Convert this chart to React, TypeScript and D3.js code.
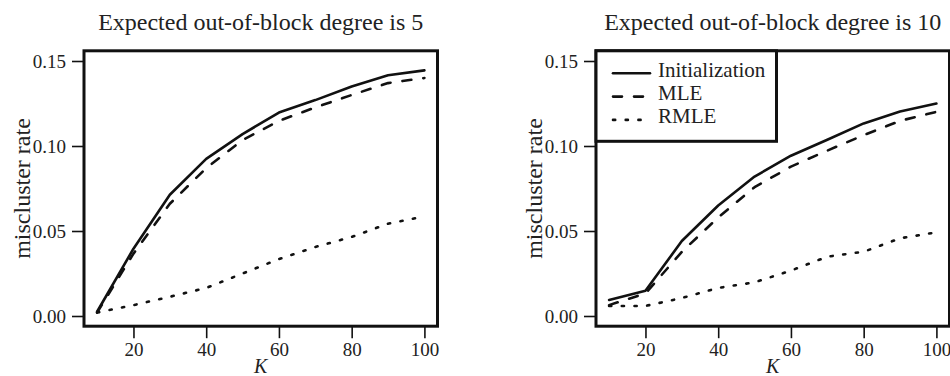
import * as d3 from "d3";
import { useEffect, useRef } from "react";

// K on the x axis
const kValues = [10, 20, 30, 40, 50, 60, 70, 80, 90, 100];

// expected out-of-block degree 5
const initDeg5 = [0.0025, 0.0396, 0.0713, 0.0924, 0.107, 0.1197, 0.127, 0.135, 0.1416, 0.1445];
const mleDeg5 = [0.002, 0.0367, 0.066, 0.087, 0.1035, 0.1148, 0.1227, 0.13, 0.137, 0.14];
const rmleDeg5 = [0.002, 0.0064, 0.0113, 0.0165, 0.025, 0.0335, 0.0406, 0.0465, 0.0543, 0.0586];

// expected out-of-block degree 10
const initDeg10 = [0.0094, 0.0148, 0.0441, 0.065, 0.082, 0.0943, 0.1037, 0.1133, 0.1203, 0.125];
const mleDeg10 = [0.0064, 0.0133, 0.0377, 0.058, 0.0758, 0.0879, 0.0973, 0.1064, 0.1148, 0.1201];
const rmleDeg10 = [0.0059, 0.0059, 0.0106, 0.0165, 0.0198, 0.0267, 0.0349, 0.0378, 0.0457, 0.0492];

const xTickValues = [20, 40, 60, 80, 100];
const yTickValues = [0, 0.05, 0.1, 0.15];
const seriesNames = ["Initialization", "MLE", "RMLE"];
const panelTitles = [
  "Expected out-of-block degree is 5",
  "Expected out-of-block degree is 10",
];

const FONT = '"Liberation Serif", "DejaVu Serif", serif';
const INK = "#111";

export default function App() {
  const ref = useRef<SVGSVGElement | null>(null);

  useEffect(() => {
    if (!ref.current) return;
    const svg = d3.select(ref.current);
    svg.selectAll("*").remove();

    const top = 50.8;
    const bottom = 326.2;
    const dashes = [null, "9,12", "2.2,10.5"];

    const panels = [
      { left: 84, right: 437.5, title: panelTitles[0], series: [initDeg5, mleDeg5, rmleDeg5], legend: false, labelX: 30 },
      { left: 596, right: 949.5, title: panelTitles[1], series: [initDeg10, mleDeg10, rmleDeg10], legend: true, labelX: 542 },
    ];

    panels.forEach((p) => {
      // R-style 4% padding around the limits
      const x = d3.scaleLinear().domain([6.4, 103.6]).range([p.left, p.right]);
      const y = d3.scaleLinear().domain([-0.006, 0.156]).range([bottom, top]);
      const g = svg.append("g");

      const line = d3
        .line<number>()
        .x((_, i) => x(kValues[i]))
        .y((d) => y(d));

      p.series.forEach((vals, i) => {
        const path = g
          .append("path")
          .attr("d", line(vals))
          .attr("fill", "none")
          .attr("stroke", INK)
          .attr("stroke-width", 2.6)
          .attr("stroke-linejoin", "round")
          .attr("stroke-linecap", "round");
        if (dashes[i]) path.attr("stroke-dasharray", dashes[i]);
      });

      // axes
      const xAxis = g
        .append("g")
        .attr("transform", `translate(0,${bottom})`)
        .call(d3.axisBottom(x).tickValues(xTickValues).tickSize(12).tickSizeOuter(0).tickPadding(4));
      const yAxis = g
        .append("g")
        .attr("transform", `translate(${p.left},0)`)
        .call(
          d3.axisLeft(y).tickValues(yTickValues).tickFormat(d3.format(".2f")).tickSize(12).tickSizeOuter(0).tickPadding(6)
        );
      [xAxis, yAxis].forEach((ax) => {
        ax.select(".domain").remove();
        ax.selectAll("line").attr("stroke", INK).attr("stroke-width", 1.6);
        ax.selectAll("text").attr("fill", "#222").attr("font-size", 19).attr("font-family", FONT);
      });

      // frame
      g.append("rect")
        .attr("x", p.left)
        .attr("y", top)
        .attr("width", p.right - p.left)
        .attr("height", bottom - top)
        .attr("fill", "none")
        .attr("stroke", INK)
        .attr("stroke-width", 3);

      const cx = (p.left + p.right) / 2;
      g.append("text")
        .attr("x", cx)
        .attr("y", 30)
        .attr("text-anchor", "middle")
        .attr("font-family", FONT)
        .attr("font-size", 24)
        .attr("fill", "#222")
        .text(p.title);

      g.append("text")
        .attr("x", cx)
        .attr("y", 373)
        .attr("text-anchor", "middle")
        .attr("font-family", FONT)
        .attr("font-style", "italic")
        .attr("font-size", 20)
        .attr("fill", "#222")
        .text("K");

      g.append("text")
        .attr("transform", `translate(${p.labelX},${(top + bottom) / 2}) rotate(-90)`)
        .attr("text-anchor", "middle")
        .attr("font-family", FONT)
        .attr("font-size", 24)
        .attr("fill", "#222")
        .text("miscluster rate");

      if (p.legend) {
        const lg = g.append("g");
        lg.append("rect")
          .attr("x", p.left)
          .attr("y", top)
          .attr("width", 180.5)
          .attr("height", 90.5)
          .attr("fill", "white")
          .attr("stroke", INK)
          .attr("stroke-width", 3);
        seriesNames.forEach((name, i) => {
          const ry = 73.3 + i * 23.3;
          const seg = lg
            .append("line")
            .attr("x1", p.left + 17)
            .attr("x2", p.left + 54)
            .attr("y1", ry)
            .attr("y2", ry)
            .attr("stroke", INK)
            .attr("stroke-width", 2.6)
            .attr("stroke-linecap", "round");
          if (dashes[i]) seg.attr("stroke-dasharray", dashes[i]);
          lg.append("text")
            .attr("x", p.left + 62)
            .attr("y", ry + 3.5)
            .attr("font-family", FONT)
            .attr("font-size", 21)
            .attr("fill", "#222")
            .text(name);
        });
      }
    });
  }, []);

  return (
    <svg
      ref={ref}
      width={950}
      height={376}
      style={{ position: "absolute", left: 0, top: 0, background: "white" }}
    ></svg>
  );
}
